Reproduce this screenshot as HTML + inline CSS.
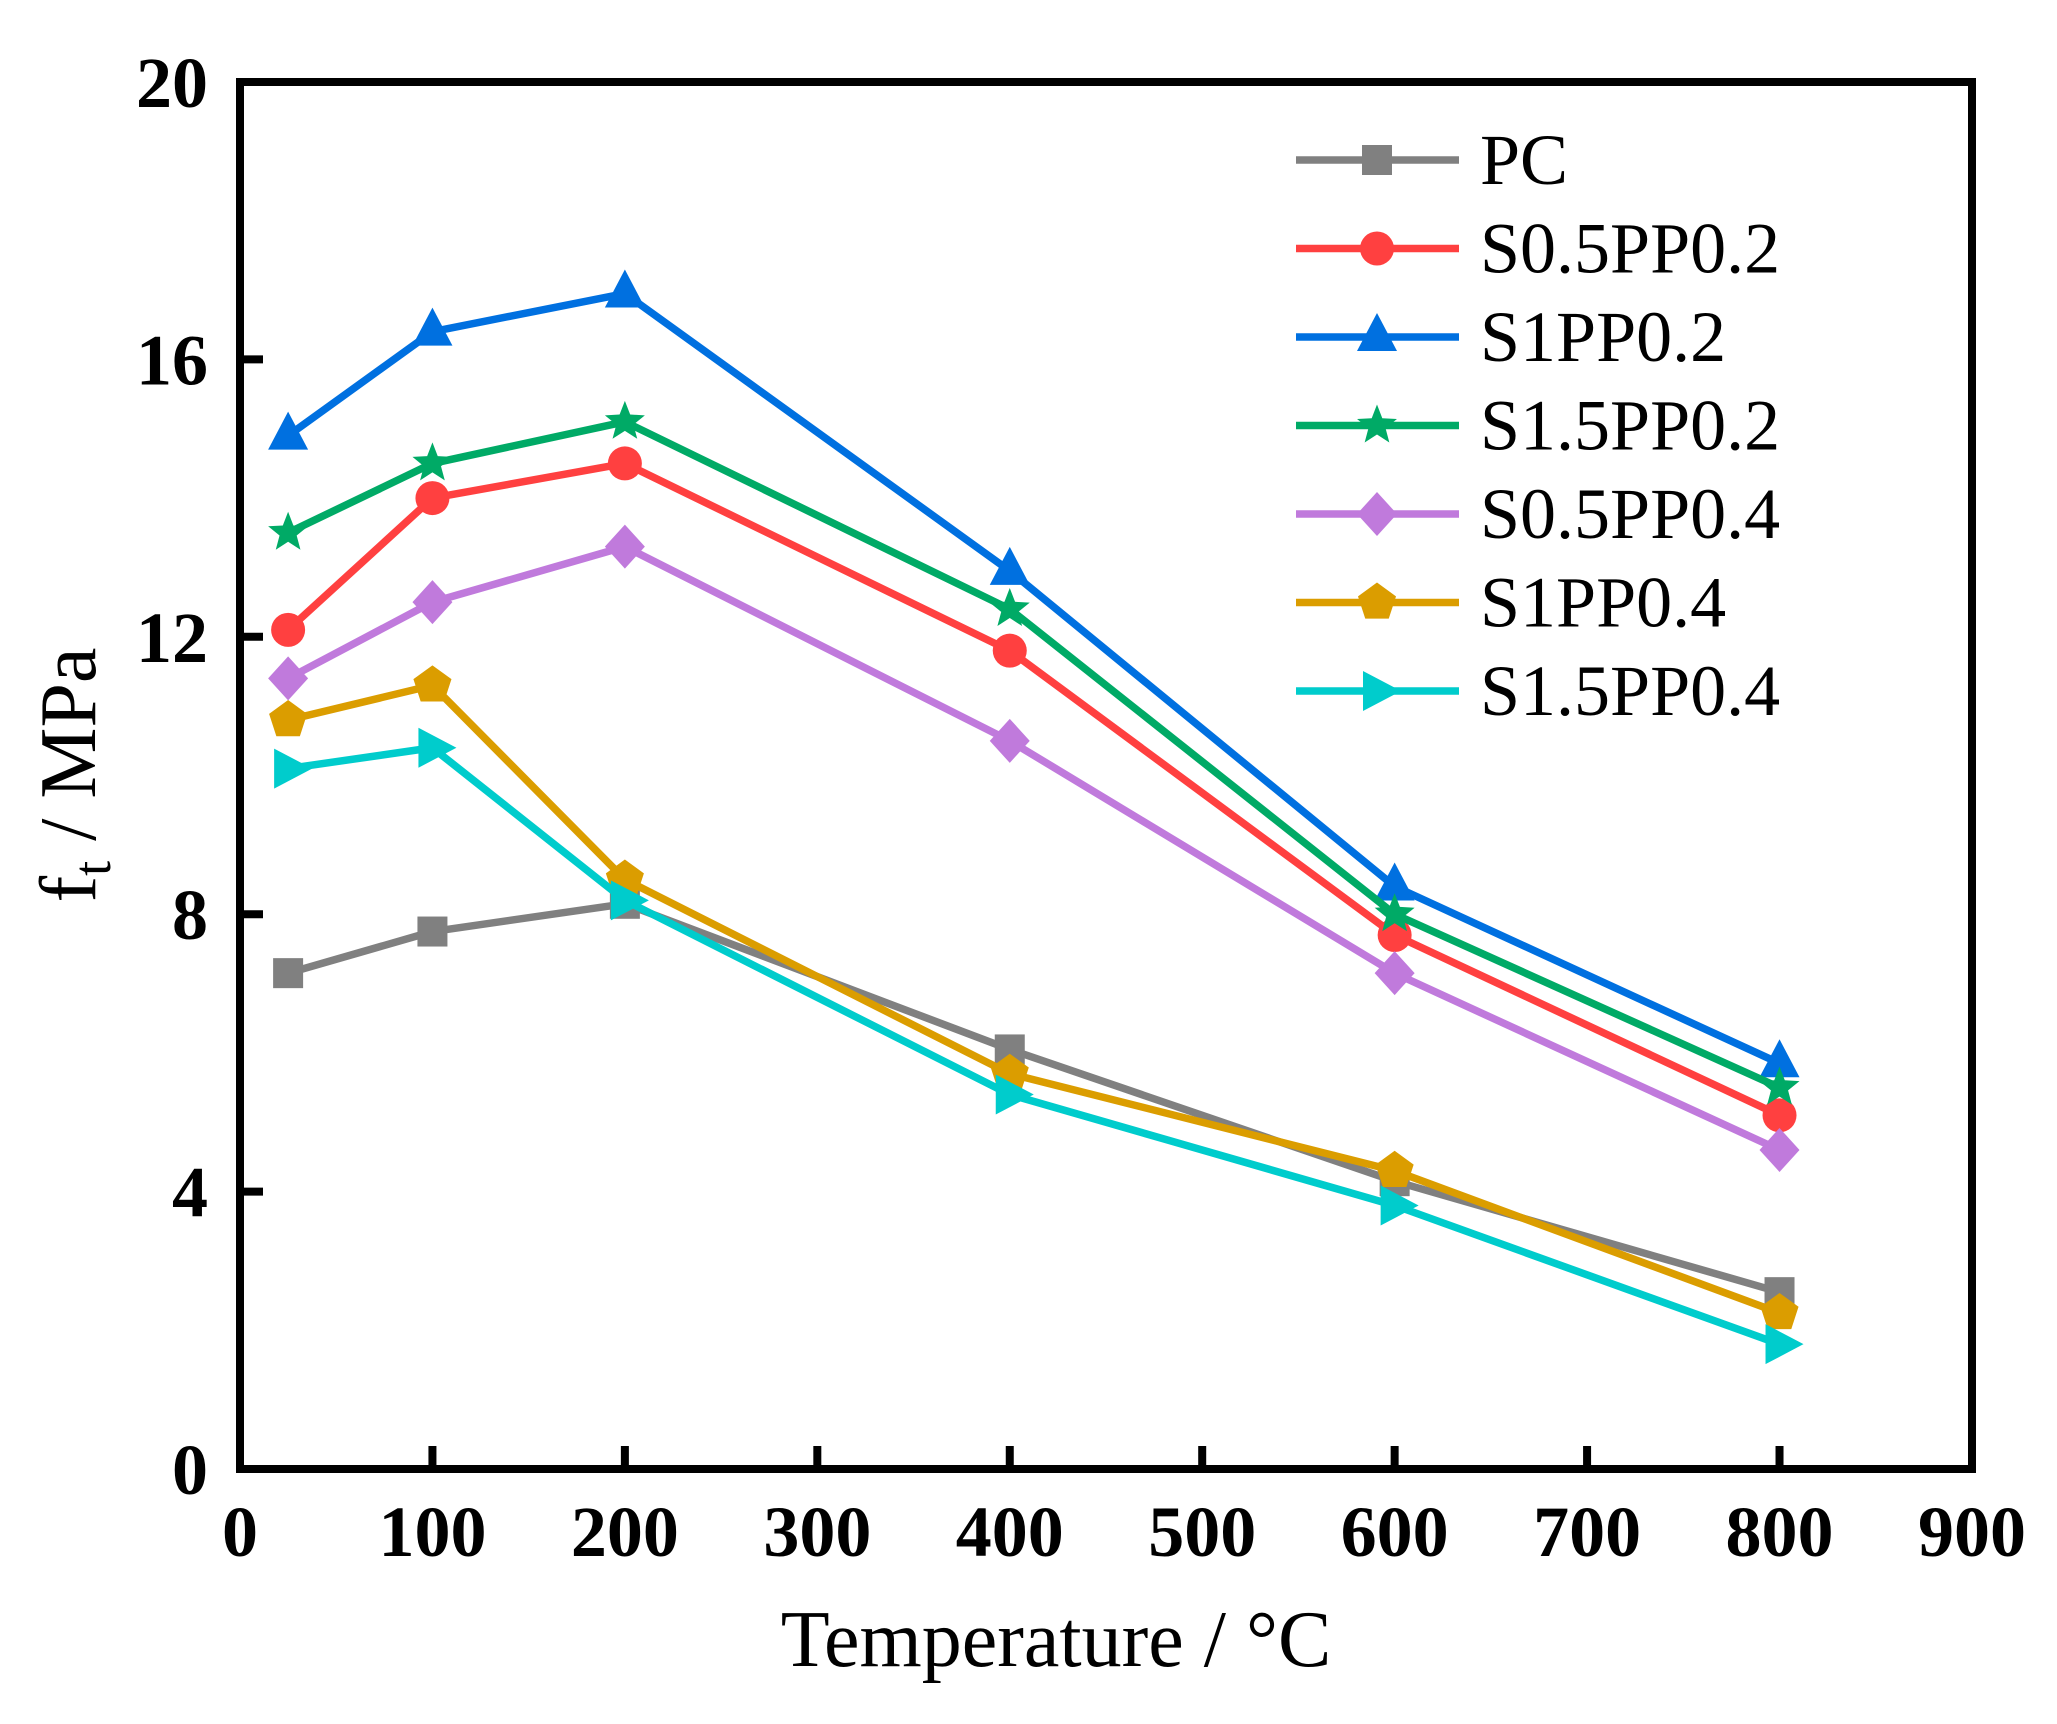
<!DOCTYPE html>
<html><head><meta charset="utf-8"><style>
html,body{margin:0;padding:0;background:#fff;}
svg{display:block;font-family:"Liberation Serif",serif;}
</style></head><body>
<svg id="s" width="2057" height="1724" viewBox="0 0 2057 1724" xmlns="http://www.w3.org/2000/svg">
<rect width="2057" height="1724" fill="#fff"/>
<g id="plot"></g>
<rect x="240" y="82" width="1732" height="1387" fill="none" stroke="#000" stroke-width="8"/>
<g id="ticks"></g>
<text x="1056" y="1666" font-size="80" text-anchor="middle">Temperature / °C</text>
<text transform="translate(95,775) rotate(-90)" font-size="80" text-anchor="middle">f<tspan font-size="54" dy="15">t</tspan><tspan dy="-15"> / MPa</tspan></text>
<g id="legend"></g>
</svg>
<script>
const NS="http://www.w3.org/2000/svg";
const X=v=>240+v*1.9244, Y=v=>1469-v*69.35;
function el(p,t,a,txt){const e=document.createElementNS(NS,t);for(const k in a)e.setAttribute(k,a[k]);if(txt!==undefined)e.textContent=txt;p.appendChild(e);return e;}
const tk=document.getElementById('ticks');
for(let v=0;v<=900;v+=100){const x=X(v);if(v>0&&v<900)el(tk,'line',{x1:x,y1:1469,x2:x,y2:1446,stroke:'#000','stroke-width':8});
el(tk,'text',{x:x,y:1556,'font-size':72,'font-weight':'bold','text-anchor':'middle'},String(v));}
for(let v=0;v<=20;v+=4){const y=Y(v);if(v>0&&v<20)el(tk,'line',{x1:240,y1:y,x2:263,y2:y,stroke:'#000','stroke-width':8});
el(tk,'text',{x:208,y:y+25,'font-size':72,'font-weight':'bold','text-anchor':'end'},String(v));}
const xs=[25,100,200,400,600,800];
const S=[
['PC','#808080','sq',[7.15,7.75,8.15,6.05,4.15,2.55]],
['S0.5PP0.2','#FF4040','ci',[12.1,14.0,14.5,11.8,7.7,5.1]],
['S1PP0.2','#0070E0','tu',[14.9,16.4,16.95,12.95,8.4,5.85]],
['S1.5PP0.2','#00AA66','st',[13.5,14.5,15.1,12.4,8.0,5.5]],
['S0.5PP0.4','#C07ADC','di',[11.4,12.5,13.3,10.5,7.15,4.6]],
['S1PP0.4','#DB9D00','pe',[10.8,11.3,8.5,5.7,4.3,2.25]],
['S1.5PP0.4','#00CCCC','tr',[10.1,10.4,8.2,5.4,3.8,1.8]]];
function mk(g,t,x,y,c){
 if(t=='sq')el(g,'rect',{x:x-15,y:y-15,width:30,height:30,fill:c});
 else if(t=='ci')el(g,'circle',{cx:x,cy:y,r:17,fill:c});
 else if(t=='tu')el(g,'polygon',{points:`${x},${y-24} ${x-20},${y+14} ${x+20},${y+14}`,fill:c});
 else if(t=='tr')el(g,'polygon',{points:`${x+24},${y} ${x-14},${y-20} ${x-14},${y+20}`,fill:c});
 else if(t=='di')el(g,'polygon',{points:`${x},${y-22} ${x+20},${y} ${x},${y+22} ${x-20},${y}`,fill:c});
 else {let n=t=='st'?10:5,p=[];for(let i=0;i<n;i++){const a=-Math.PI/2+i*2*Math.PI/n;const rr=t=='st'?(i%2?9:21):20;p.push((x+rr*Math.cos(a))+','+(y+rr*Math.sin(a)));}el(g,'polygon',{points:p.join(' '),fill:c});}
}
const pl=document.getElementById('plot'),lg=document.getElementById('legend');
S.forEach((s,i)=>{
 el(pl,'polyline',{points:xs.map((x,j)=>X(x)+','+Y(s[3][j])).join(' '),fill:'none',stroke:s[1],'stroke-width':7.5,'stroke-linejoin':'round'});
 xs.forEach((x,j)=>mk(pl,s[2],X(x),Y(s[3][j]),s[1]));
 const y=160+i*88.5;
 el(lg,'line',{x1:1296,y1:y,x2:1459,y2:y,stroke:s[1],'stroke-width':7.5});
 mk(lg,s[2],1377,y,s[1]);
 el(lg,'text',{x:1480,y:y+24,'font-size':72},s[0]);
});
</script>
</body></html>
